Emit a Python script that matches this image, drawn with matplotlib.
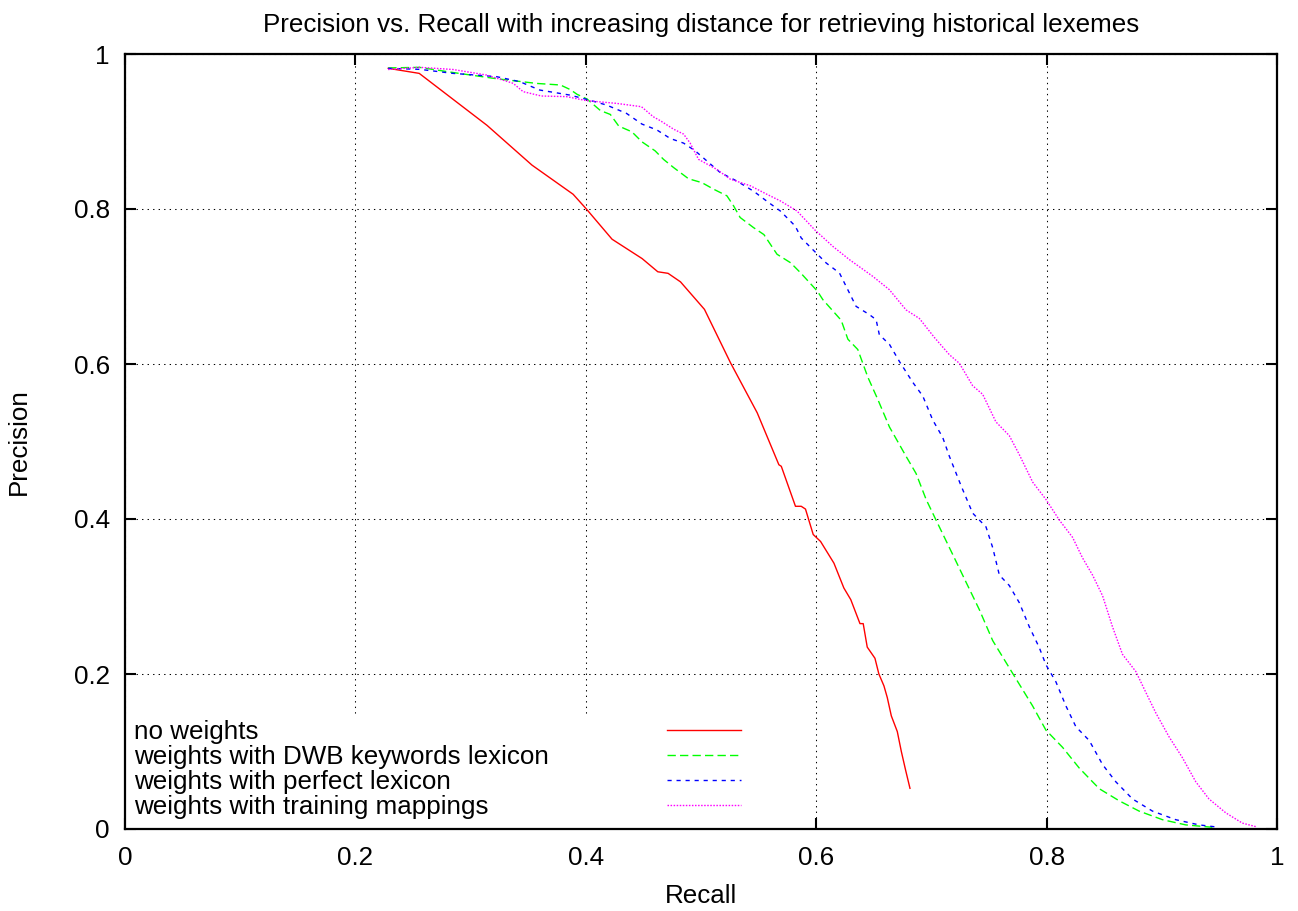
import matplotlib
matplotlib.use("Agg")
import matplotlib.pyplot as plt
from matplotlib.patches import Rectangle
from matplotlib.lines import Line2D

plt.rcParams['font.family'] = ['Liberation Sans', 'DejaVu Sans']

# ---- data ----
tick_vals = [0, 0.2, 0.4, 0.6, 0.8, 1]
tick_labels = ['0', '0.2', '0.4', '0.6', '0.8', '1']

labels = ['no weights',
          'weights with DWB keywords lexicon',
          'weights with perfect lexicon',
          'weights with training mappings']

red_x = [0.2285, 0.2554, 0.3142, 0.3533, 0.389, 0.4005, 0.4228, 0.4489, 0.4625,
         0.4714, 0.4822, 0.503, 0.5256, 0.5488, 0.5676, 0.5697, 0.582, 0.587,
         0.5907, 0.5974, 0.6038, 0.6154, 0.624, 0.630, 0.638, 0.6408, 0.6443,
         0.651, 0.6544, 0.6588, 0.6617, 0.6652, 0.6704, 0.6739, 0.6776, 0.6814]
red_y = [0.9815, 0.975, 0.908, 0.8566, 0.819, 0.800, 0.761, 0.736, 0.719,
         0.717, 0.706, 0.6705, 0.6016, 0.537, 0.470, 0.468, 0.4164, 0.4164,
         0.4128, 0.380, 0.371, 0.343, 0.311, 0.296, 0.265, 0.265, 0.2347,
         0.2203, 0.200, 0.1847, 0.1696, 0.146, 0.1257, 0.100, 0.076, 0.0525]

green_x = [0.2285, 0.2554, 0.2853, 0.323, 0.3577, 0.378, 0.3866, 0.3924, 0.401,
           0.4127, 0.4213, 0.4286, 0.440, 0.4487, 0.4602, 0.4675, 0.4762, 0.4892,
           0.5008, 0.5109, 0.5225, 0.5283, 0.534, 0.5456, 0.5546, 0.566, 0.5778,
           0.5864, 0.601, 0.6058, 0.6217, 0.6275, 0.6361, 0.6448, 0.6535, 0.6636,
           0.678, 0.6867, 0.6954, 0.704, 0.7185, 0.73, 0.7416, 0.7532, 0.7705,
           0.7879, 0.7994, 0.8139, 0.8283, 0.8457, 0.863, 0.8803, 0.9006, 0.9208,
           0.9439]
green_y = [0.982, 0.9828, 0.976, 0.968, 0.962, 0.960, 0.954, 0.948, 0.942,
           0.927, 0.922, 0.907, 0.8996, 0.8867, 0.875, 0.864, 0.8535, 0.839,
           0.834, 0.8256, 0.817, 0.804, 0.789, 0.776, 0.767, 0.7416, 0.7306,
           0.7177, 0.694, 0.683, 0.6564, 0.632, 0.6187, 0.5831, 0.5542, 0.5187,
           0.4809, 0.4587, 0.4253, 0.3987, 0.3542, 0.3187, 0.2831, 0.2431, 0.2009,
           0.1587, 0.1276, 0.1053, 0.0787, 0.052, 0.0364, 0.0231, 0.012, 0.0053,
           0.0022]

blue_x = [0.2284, 0.2559, 0.2848, 0.3224, 0.3427, 0.36, 0.3861, 0.4006, 0.4179,
          0.4353, 0.4487, 0.4617, 0.4733, 0.4849, 0.495, 0.5051, 0.5167, 0.5312,
          0.5456, 0.5572, 0.5688, 0.5818, 0.587, 0.5971, 0.6087, 0.6202, 0.6274,
          0.6346, 0.6462, 0.652, 0.6548, 0.6636, 0.6723, 0.6838, 0.6925, 0.7012,
          0.7098, 0.7156, 0.7257, 0.7358, 0.7474, 0.7532, 0.759, 0.7676, 0.7763,
          0.785, 0.7936, 0.7994, 0.8081, 0.8168, 0.8254, 0.837, 0.8486, 0.8601,
          0.8746, 0.8919, 0.9121, 0.9324, 0.9497]
blue_y = [0.9815, 0.9802, 0.975, 0.9708, 0.9643, 0.9535, 0.947, 0.9415, 0.9342,
          0.9234, 0.9096, 0.902, 0.891, 0.885, 0.875, 0.862, 0.847, 0.836,
          0.823, 0.810, 0.7975, 0.778, 0.7626, 0.7475, 0.7303, 0.7174, 0.6959,
          0.6744, 0.6637, 0.6572, 0.6378, 0.6253, 0.6031, 0.5764, 0.5587, 0.5276,
          0.5053, 0.4809, 0.4431, 0.4076, 0.3898, 0.3631, 0.3276, 0.3142, 0.292,
          0.2609, 0.2342, 0.212, 0.1898, 0.1587, 0.132, 0.1142, 0.0831, 0.0609,
          0.0387, 0.0231, 0.012, 0.0053, 0.0022]

magenta_x = [0.2284, 0.2559, 0.2848, 0.3137, 0.3369, 0.3456, 0.3615, 0.3832, 0.4006,
             0.4266, 0.4483, 0.4585, 0.4646, 0.4762, 0.4849, 0.4906, 0.4979, 0.5138,
             0.5254, 0.5428, 0.5572, 0.5688, 0.5833, 0.5986, 0.6144, 0.6289, 0.6491,
             0.6635, 0.678, 0.6896, 0.7026, 0.7156, 0.7243, 0.7358, 0.7445, 0.756,
             0.7676, 0.7763, 0.7879, 0.7994, 0.811, 0.8225, 0.8312, 0.8399, 0.8486,
             0.8572, 0.8659, 0.8775, 0.8861, 0.8948, 0.9064, 0.9179, 0.9295, 0.941,
             0.9555, 0.9699, 0.9815]
magenta_y = [0.980, 0.9828, 0.980, 0.9729, 0.9622, 0.9514, 0.9458, 0.945, 0.9398,
             0.9363, 0.932, 0.9191, 0.914, 0.903, 0.8966, 0.885, 0.864, 0.851,
             0.8385, 0.830, 0.819, 0.8105, 0.7975, 0.7733, 0.7518, 0.7346, 0.7131,
             0.6959, 0.6698, 0.6587, 0.6342, 0.612, 0.6009, 0.572, 0.5609, 0.5253,
             0.5076, 0.4831, 0.4476, 0.4253, 0.3987, 0.3764, 0.3498, 0.3276, 0.3009,
             0.2609, 0.2253, 0.2031, 0.1764, 0.1498, 0.1187, 0.092, 0.0609, 0.0387,
             0.0209, 0.0076, 0.0031]

series = [(red_x, red_y), (green_x, green_y), (blue_x, blue_y), (magenta_x, magenta_y)]
colors = ['#ff0000', '#00ff00', '#0000ff', '#ff00ff']
styles = ['-', (0, (6, 3)), (0, (3, 3.5)), (0, (1.1, 1.1))]

FS = 18.7

fig = plt.figure(figsize=(12.98, 9.11), dpi=100)
ax = fig.add_axes([125 / 1298, 1 - 829 / 911, 1152 / 1298, 775 / 911])

handles = []
for (xs, ys), c, ls in zip(series, colors, styles):
    ln, = ax.plot(xs, ys, color=c, linestyle=ls, linewidth=1.0, zorder=3)
    handles.append(ln)

ax.set_xlim(0, 1)
ax.set_ylim(0, 1)
ax.set_xticks(tick_vals)
ax.set_xticklabels(tick_labels)
ax.set_yticks(tick_vals)
ax.set_yticklabels(tick_labels)
ax.tick_params(direction='in', top=True, right=True, length=8, width=1.5,
               labelsize=FS, pad=11)
ax.tick_params(axis='x', pad=12)
for sp in ax.spines.values():
    sp.set_linewidth(1.6)

ax.set_axisbelow(True)
ax.grid(True, color='black', linewidth=0.75, linestyle=(0, (1.3, 4)))

# white area behind the key (hides grid there)
ax.add_patch(Rectangle((0, 0), 0.55, 0.147, transform=ax.transAxes,
                       facecolor='white', edgecolor='none', zorder=1))

ax.set_title('Precision vs. Recall with increasing distance for retrieving historical lexemes',
             fontsize=FS, pad=16)
ax.set_xlabel('Recall', fontsize=FS, labelpad=10)
ax.set_ylabel('Precision', fontsize=FS, labelpad=31)

# key: text column on the left, samples on the right
leg_txt = ax.legend(handles, labels, loc='lower left', bbox_to_anchor=(0.008, 0.013),
                    handlelength=0, handletextpad=0, frameon=False, fontsize=FS,
                    labelspacing=0.04, borderpad=0, borderaxespad=0)
for h in leg_txt.legend_handles:
    h.set_visible(False)
ax.add_artist(leg_txt)
samples = [Line2D([], [], color=c, linestyle=ls, linewidth=1.0) for c, ls in zip(colors, styles)]
ax.legend(samples, [''] * 4, loc='lower left', bbox_to_anchor=(0.4705, 0.013),
          handlelength=74 / 26, handletextpad=0, frameon=False, fontsize=FS,
          labelspacing=0.04, borderpad=0, borderaxespad=0)

fig.savefig('out.png', dpi=100)
